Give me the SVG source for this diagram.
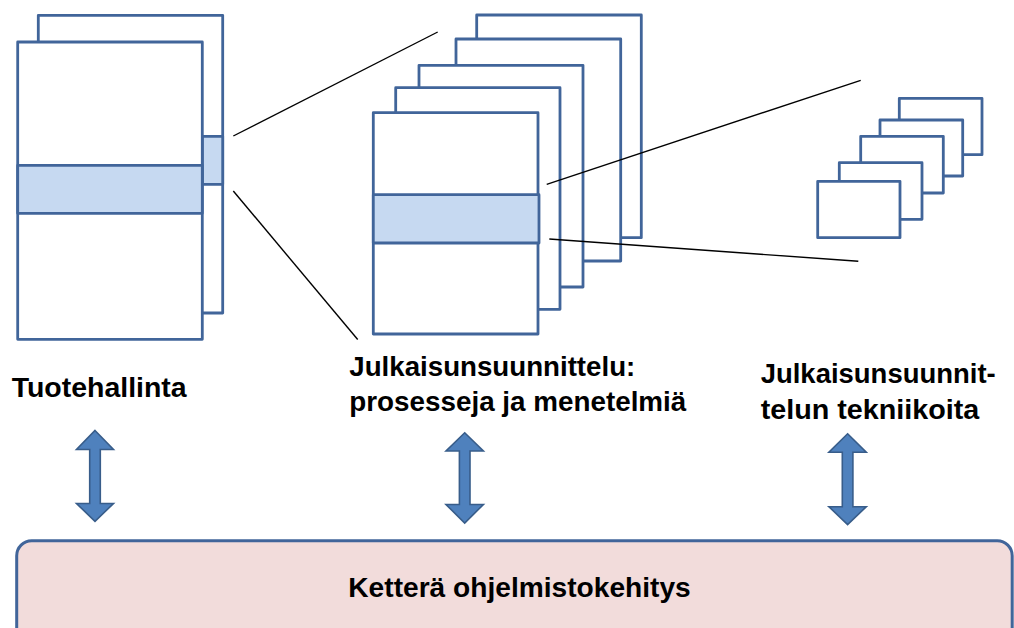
<svg xmlns="http://www.w3.org/2000/svg" width="1014" height="628" viewBox="0 0 1014 628">
  <style>
    .page { fill: #ffffff; stroke: #41659a; stroke-width: 2.8; stroke-linejoin: round; }
    .band { fill: #c6d9f1; stroke: #41659a; stroke-width: 2.8; stroke-linejoin: round; }
    .zoom { stroke: #000000; stroke-width: 1.4; fill: none; }
    .arrow { fill: #4f81bd; stroke: #385d8a; stroke-width: 1.6; stroke-linejoin: miter; }
    .label { font-family: "Liberation Sans", Arial, sans-serif; font-weight: bold; font-size: 28px; fill: #000000; }
    .base { fill: #f2dcdb; stroke: #41659a; stroke-width: 3; }
  </style>

  <rect width="1014" height="628" fill="#ffffff"/>

  <!-- Product management: two stacked pages, one band highlighted -->
  <g id="product-management">
    <rect class="page" x="38.3" y="15.3" width="184.4" height="297.7"/>
    <rect class="band" x="202.3" y="136.3" width="20.4" height="48"/>
    <rect class="page" x="17.7" y="42" width="184.6" height="297.3"/>
    <rect class="band" x="17.7" y="165.3" width="184.6" height="48"/>
    <text class="label" x="11.7" y="396.5" textLength="175" lengthAdjust="spacingAndGlyphs">Tuotehallinta</text>
  </g>

  <!-- Release planning processes: five stacked pages -->
  <g id="release-processes">
    <rect class="page" x="476.7" y="15" width="164.6" height="222.7"/>
    <rect class="page" x="456" y="39" width="164.7" height="222"/>
    <rect class="page" x="419" y="65.3" width="164" height="221.7"/>
    <rect class="page" x="395.7" y="87.7" width="164.3" height="221.6"/>
    <rect class="page" x="373.3" y="112.7" width="164.7" height="221.3"/>
    <rect class="band" x="373.3" y="194.7" width="165.7" height="48.3"/>
    <text class="label" x="349.3" y="375.5" textLength="286" lengthAdjust="spacingAndGlyphs">Julkaisunsuunnittelu:</text>
    <text class="label" x="349.3" y="410.5" textLength="337" lengthAdjust="spacingAndGlyphs">prosesseja ja menetelmiä</text>
  </g>

  <!-- Release planning techniques: five small stacked cards -->
  <g id="release-techniques">
    <rect class="page" x="899.3" y="98.3" width="82.7" height="56.4"/>
    <rect class="page" x="880" y="120" width="82.7" height="56"/>
    <rect class="page" x="860.7" y="136.3" width="82.6" height="56.7"/>
    <rect class="page" x="839.3" y="162.7" width="82.7" height="56.6"/>
    <rect class="page" x="817.7" y="181.3" width="82.3" height="56.4"/>
    <text class="label" x="760.7" y="382.5" textLength="235" lengthAdjust="spacingAndGlyphs">Julkaisunsuunnit-</text>
    <text class="label" x="760.7" y="419" textLength="218.5" lengthAdjust="spacingAndGlyphs">telun tekniikoita</text>
  </g>

  <!-- Agile development base bar -->
  <g id="agile-development">
    <rect class="base" x="16.7" y="540.7" width="995.5" height="110" rx="15" ry="15"/>
    <text class="label" x="348.3" y="596.7" textLength="342.4" lengthAdjust="spacingAndGlyphs">Ketterä ohjelmistokehitys</text>
  </g>

  <!-- Zoom lines and two-way arrows -->
  <g id="connectors">
    <line class="zoom" x1="233.3" y1="136" x2="437.7" y2="32"/>
    <line class="zoom" x1="233.3" y1="191" x2="357.7" y2="339.5"/>
    <line class="zoom" x1="546.7" y1="184.3" x2="860.7" y2="80.3"/>
    <line class="zoom" x1="549.3" y1="239" x2="858.3" y2="261.3"/>

    <path class="arrow" d="M95,430.5 L113.5,449.5 L100.3,449.5 L100.3,503.5 L113.5,503.5 L95,521.3 L76.5,503.5 L89.7,503.5 L89.7,449.5 L76.5,449.5 Z"/>
    <path class="arrow" d="M464.7,432.8 L483.4,451 L470,451 L470,504.5 L483.4,504.5 L464.7,523 L446,504.5 L459.4,504.5 L459.4,451 L446,451 Z"/>
    <path class="arrow" d="M847.6,433.8 L866.3,452.3 L852.9,452.3 L852.9,506.7 L866.3,506.7 L847.6,524.6 L828.9,506.7 L842.3,506.7 L842.3,452.3 L828.9,452.3 Z"/>
  </g>
</svg>
